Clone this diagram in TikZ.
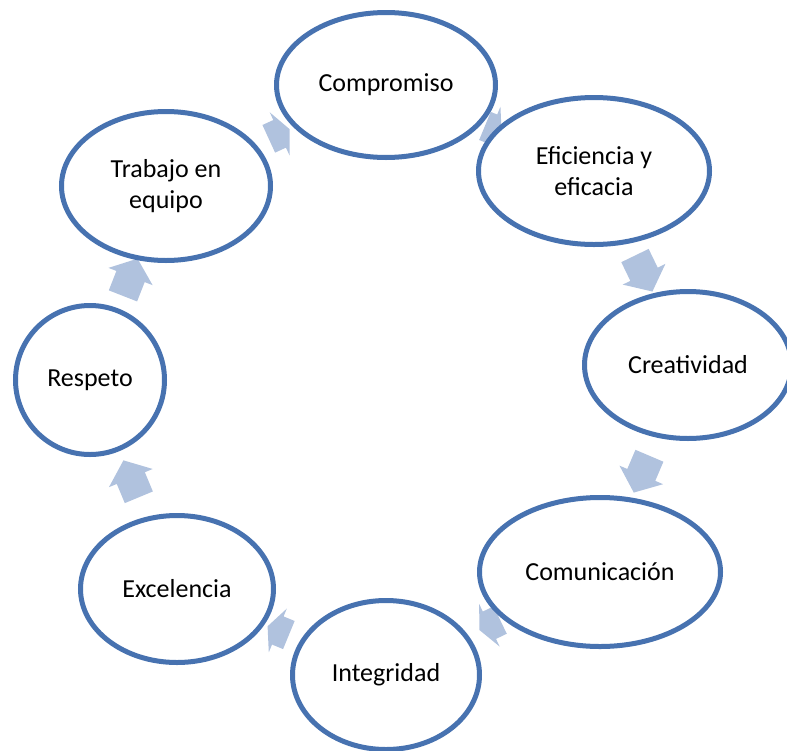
\documentclass[tikz,border=0pt]{standalone}
\usepackage{fontspec}
\setmainfont{Carlito}
\usetikzlibrary{shapes.geometric,shapes.arrows}
\definecolor{ringblue}{RGB}{71,114,176}
\definecolor{arrowblue}{RGB}{176,194,222}
\pgfdeclarelayer{back}
\pgfsetlayers{back,main}
\begin{document}
\begin{tikzpicture}[x=1pt,y=-1pt,
  value/.style={ellipse, draw=ringblue, line width=5pt, fill=white,
    align=center, inner sep=0pt, font=\fontsize{26}{31}\selectfont},
  cyclearrow/.style={single arrow, fill=arrowblue, draw=none, sloped,
    allow upside down, minimum height=40pt,
    inner xsep=0pt, inner ysep=15pt, text height=0pt, text depth=0pt,
    single arrow head extend=8.5pt, single arrow tip angle=102,
    outer sep=0pt},
  shortarrow/.style={cyclearrow, minimum height=23pt,
    single arrow tip angle=130}]
\useasboundingbox (0,0) rectangle (787,750);
\clip (0,0) rectangle (787,750);

% the eight values around the cycle
\node[value, minimum width=219pt, minimum height=145pt] (compromiso) at (386,85) {Compromiso};
\node[value, minimum width=231pt, minimum height=147pt] (eficiencia) at (594,171) {Eficiencia y\\eficacia};
\node[value, minimum width=207pt, minimum height=147pt] (creatividad) at (688,365) {Creatividad};
\node[value, minimum width=241pt, minimum height=149pt] (comunicacion) at (600,572) {Comunicación};
\node[value, minimum width=187pt, minimum height=149pt] (integridad) at (386,675) {Integridad};
\node[value, minimum width=193pt, minimum height=147pt] (excelencia) at (177,589) {Excelencia};
\node[value, minimum width=149pt, minimum height=149pt] (respeto) at (90,380) {Respeto};
\node[value, minimum width=209pt, minimum height=149pt] (trabajo) at (166,186) {Trabajo en\\equipo};

% block arrows behind the ellipses, clockwise
\begin{pgfonlayer}{back}
\path (compromiso.center) -- node[shortarrow, minimum height=18pt]{} (eficiencia.center);
\path (eficiencia.center) -- node[cyclearrow]{} (creatividad.center);
\path (creatividad.center) -- node[cyclearrow]{} (comunicacion.center);
\path (comunicacion.center) -- node[shortarrow]{} (integridad.center);
\path (integridad.center) -- node[shortarrow]{} (excelencia.center);
\path (excelencia.center) -- node[cyclearrow]{} (respeto.center);
\path (respeto.center) -- node[cyclearrow]{} (trabajo.center);
\path (trabajo.center) -- node[shortarrow]{} (compromiso.center);
\end{pgfonlayer}
\end{tikzpicture}
\end{document}
